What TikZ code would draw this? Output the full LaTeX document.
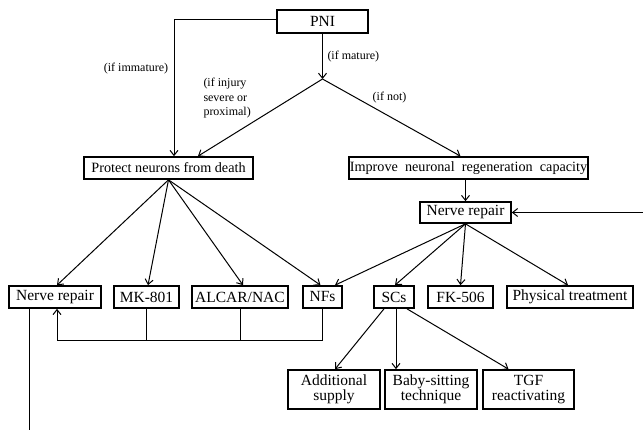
\documentclass[tikz,border=0pt]{standalone}
\usepackage{fontspec}
\setmainfont{Liberation Serif}
\usetikzlibrary{calc,arrows.meta}
\tikzset{
  box/.style={draw,line width=1.7pt,inner sep=1pt,minimum height=22,font=\fontsize{15.5}{15}\selectfont},
  twoline/.style={box,align=center,minimum height=39,font=\fontsize{15.5}{14.5}\selectfont},
  cond/.style={inner sep=0pt,font=\fontsize{12}{14.5}\selectfont},
  link/.style={line width=1pt,->}
}

\begin{document}
\begin{tikzpicture}[x=1pt,y=-1pt,line width=1pt,>={Straight Barb[length=5pt,width=8pt]}]
\useasboundingbox (0,0) rectangle (643,430);

\node[box,minimum width=91,minimum height=23] (pni) at (322.5,21.5) {PNI};
\node[box,minimum width=169,font=\fontsize{14.2}{15}\selectfont] (prot) at (168.5,168) {Protect neurons from death};
\node[box,minimum width=239,font=\fontsize{14.2}{15}\selectfont] (impr) at (468.5,168) {Improve\ \ neuronal\ \ regeneration\ \ capacity};
\node[box,minimum width=91,minimum height=21] (nrr) at (465.5,212.5) {Nerve repair};

\node[box,minimum width=92] (nrl) at (55,297) {Nerve repair};
\node[box,minimum width=65] (mk) at (146.5,297) {MK-801};
\node[box,minimum width=96] (alcar) at (240,297) {ALCAR/NAC};
\node[box,minimum width=39] (nfs) at (322.5,297) {NFs};
\node[box,minimum width=40] (scs) at (394,297) {SCs};
\node[box,minimum width=65] (fk) at (460.5,297) {FK-506};
\node[box,minimum width=126] (phys) at (570,297) {Physical treatment};

\node[twoline,minimum width=92] (add) at (334,389.5) {Additional\\supply};
\node[twoline,minimum width=92] (baby) at (431,389.5) {Baby-sitting\\technique};
\node[twoline,minimum width=91] (tgf) at (528.5,389.5) {TGF\\reactivating};

\node[cond] (ifimm) at (136,69) {(if immature)};
\node[cond,anchor=west] (ifmat) at (327,57) {(if mature)};
\node[cond,anchor=west,align=left] (ifinj) at (203,98.5) {(if injury\\severe or\\proximal)};
\node[cond] (ifnot) at (389.5,98) {(if not)};

\coordinate (split) at (322.5,79);
\coordinate (bus) at (0,341);
\coordinate (entry) at (643,212.5);
\coordinate (exit) at (29,430);

\draw[link] (pni.south) -- (split);
\draw[link] ([yshift=2]pni.west) -| ([xshift=5.5]prot.north);
\draw[link] (split) -- ([xshift=29.5]prot.north);
\draw[link] (split) -- ([xshift=-8]impr.north);
\draw[link] (nrr.north |- impr.south) -- (nrr.north);
\draw[link] (entry) -- (nrr.east);

\draw[link] (prot.south) -- ([xshift=2]nrl.north);
\draw[link] (prot.south) -- ([xshift=1.5]mk.north);
\draw[link] (prot.south) -- ([xshift=3]alcar.north);
\draw[link] (prot.south) -- ([xshift=-2]nfs.north);

\draw[link] (nrr.south) -- ([xshift=12.5]nfs.north);
\draw[link] (nrr.south) -- ([xshift=1]scs.north);
\draw[link] (nrr.south) -- (fk.north);
\draw[link] (nrr.south) -- ([xshift=-2]phys.north);

\draw (mk.south) -- (mk.south |- bus);
\draw (alcar.south) -- (alcar.south |- bus);
\draw[link] (nfs.south) -- (nfs.south |- bus) -| ([xshift=2]nrl.south);
\draw (nrl.south -| exit) -- (exit);

\draw[link] ([xshift=-10]scs.south) -- ([xshift=1]add.north);
\draw[link] ([xshift=2]scs.south) -- ([xshift=2]scs.south |- baby.north);
\draw[link] ([xshift=13]scs.south) -- ([xshift=-20]tgf.north);
\end{tikzpicture}
\end{document}
